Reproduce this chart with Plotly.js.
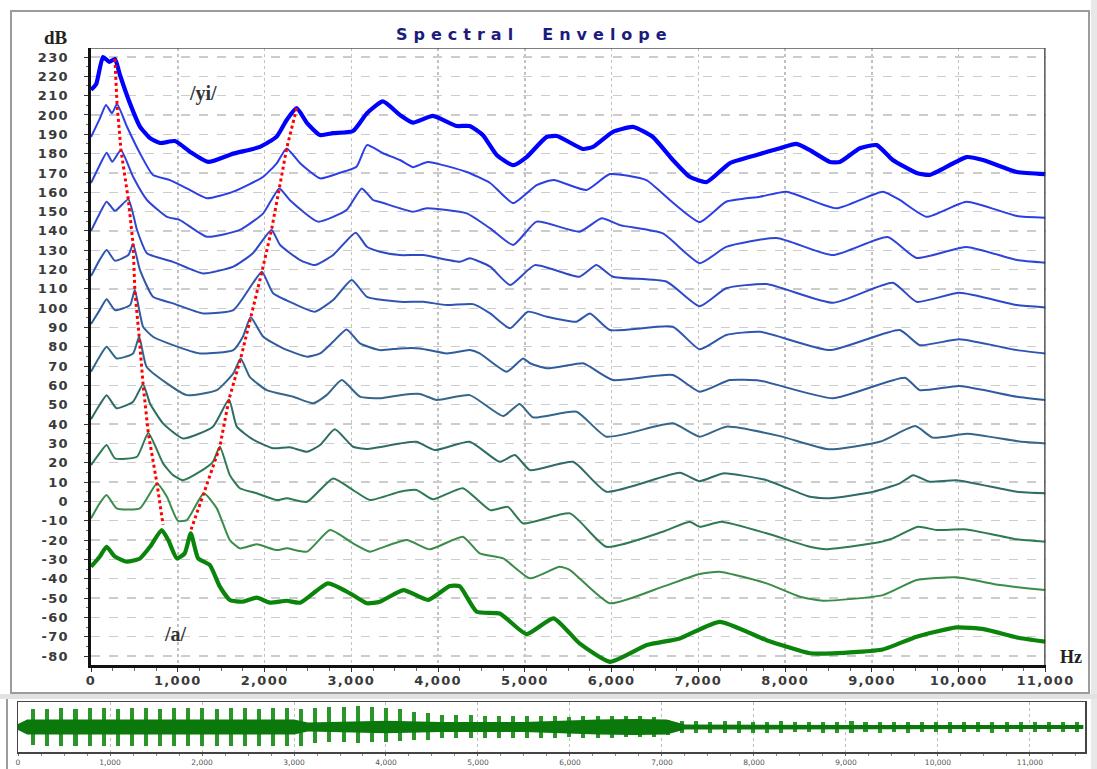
<!DOCTYPE html>
<html>
<head>
<meta charset="utf-8">
<script src="https://cdn.plot.ly/plotly-3.0.1.min.js"></script>
<style>
  html, body { margin: 0; padding: 0; background: #ffffff; }
  #chart { width: 1097px; height: 769px; }
  #chart .xtick text, #chart .ytick text { letter-spacing: 1.3px; }
  #chart .x2tick text { letter-spacing: 0px; }
  #chart g.annotation[data-index="0"] text { letter-spacing: 6px; }
</style>
</head>
<body>
<div id="chart"></div>
<script>
// ---------------- Spectral envelopes (frequency Hz, level dB) ----------------
// curve 0 : /yi/ (top, thick blue)
const c0f = [0,60,138,210,276,334,449,564,680,795,968,1140,1350,1640,1947,2140,2255,2370,2490,2640,2790,3020,3180,3365,3560,3710,3940,4215,4365,4515,4675,4865,5020,5250,5370,5670,5785,6015,6245,6475,6705,6900,7095,7360,7670,7940,8130,8280,8515,8630,8860,9055,9240,9515,9665,10090,10280,10670,11000];
const c0d = [213,216,230,227.5,229,220.7,206,194,188,185.5,186.5,181,175.7,180,183.5,188.8,197.4,203.5,195.8,189.6,190.6,191.7,200.9,207,200,196,199.5,194.3,194.3,189.6,179.3,174,178.2,188.6,189.1,182.4,183.5,191.3,193.8,188.6,176.7,168,165.3,175,179.3,182.8,185,181.9,175.7,175.7,182.8,184.4,176.7,170,169,178.2,176.7,170.5,169.4];
// curve 1
const c1f = [0,100,173,242,300,415,564,715,910,1105,1335,1640,1985,2140,2255,2410,2640,2870,3060,3180,3365,3560,3710,3880,4330,4600,4865,5135,5330,5710,5980,6400,6670,7015,7320,7710,8015,8590,9125,9320,9630,10090,10670,11000];
const c1d = [188.6,198,205.2,200.9,205.7,193.9,180.2,168.9,166.3,162,156.9,160.3,168,175,182.7,175,167.2,170.1,173.2,184.4,180.2,176.7,173,175.7,170.5,164.8,154.4,163.7,166.3,161.2,169.4,166.3,156,144.6,155.1,157.7,160.3,151.7,160.3,156,147.3,155.1,147.7,146.8];
// curve 2
const c2f = [0,100,180,245,345,485,645,875,1025,1335,1716,1985,2170,2290,2615,2945,3120,3250,3330,3560,3710,3870,4330,4600,4865,5135,5630,5885,6095,6590,7015,7320,7900,8550,9180,9515,10090,10670,11000];
const c2d = [164.8,174,180.5,175.8,181.9,168,156,147.3,145.6,137,140.5,149.1,162,156,144.8,150.8,162,156,155,151.7,149.9,151.7,149.1,141.3,132.7,144.8,139.6,146.5,143,138.7,123.3,131.7,136.3,127.5,136.8,126,131.7,124.9,123.5];
// curve 3
const c3f = [0,100,180,276,430,530,645,945,1290,1640,1865,2080,2180,2410,2580,2790,3050,3180,3330,3560,3830,4250,4365,4600,4830,5115,5630,5825,6015,6635,7015,7320,7785,8550,9240,9515,10010,10670,11000];
const c3d = [140,149,155.1,150.4,156.3,140.5,128.4,124,118,121.5,128.4,140.5,132.7,124.9,122.3,127.5,139.1,131.8,129.2,127.5,127.5,124,125.8,121.5,112,122.3,116.3,122.3,116.3,113.7,101,110.3,112.5,102.8,113.2,103.3,108,101.6,100.4];
// curve 4
const c4f = [0,100,180,276,430,485,564,715,945,1290,1640,1865,1970,2100,2330,2580,2790,3005,3180,3560,3830,4100,4405,4600,4830,5035,5250,5595,5750,5980,6705,7015,7320,7710,8515,9320,9550,10010,10670,11000];
const c4d = [116.6,125,130.1,124.6,127.5,133.2,119.8,105.9,102.5,97.3,99,112.9,118.9,107.7,102.5,98.2,104.2,114.6,105.9,103.3,103.3,101.6,102.1,97.3,89.6,98.2,95.6,93,97.3,88.7,90.4,78.7,86.1,87.8,78.3,88.7,80.9,83.9,78.3,76.6];
// curve 5
const c5f = [0,100,180,276,450,505,600,715,945,1255,1640,1750,1840,1985,2215,2490,2640,2790,2945,3100,3330,3560,3790,4100,4365,4480,4790,4980,5060,5250,5670,5750,6015,6705,7015,7360,7710,8550,9380,9550,10010,10670,11000];
const c5d = [91.8,99,104.6,99,101.6,109.4,90.4,85.2,80.9,76.6,78.3,85.2,95.3,85.2,79.2,74.9,76.6,82.6,89,81.8,78.3,79.2,79.2,76.6,78.3,76.6,67.1,74,71.5,68.9,71.5,69.7,62.8,65.4,56.8,62.8,62.5,53.4,64,57.6,59.7,54.2,52.5];
// curve 6
const c6f = [0,100,180,295,485,555,640,875,1105,1450,1640,1725,1830,2025,2330,2560,2715,2890,3100,3330,3560,3790,3985,4365,4750,4940,5095,5595,5940,6705,7015,7320,7940,8500,9100,9500,9700,10100,10700,11000];
const c6d = [67.1,75,80,74,76.6,85.2,69.7,61.1,55,57.6,66.3,74,64.5,57.6,54.2,50.8,55,62.8,54.2,53.4,55,55.6,52.5,55,44.2,50.4,43.5,46.4,33.5,40.4,33.5,38.7,33.8,27,31,39,33,35,31,30];
// curve 7
const c7f = [0,100,180,295,485,600,680,830,1060,1405,1590,1680,1865,2100,2290,2490,2640,2810,3020,3180,3560,3750,3960,4365,4710,4885,5060,5555,5940,6785,7015,7285,7785,8285,8515,9015,9320,9475,9665,9975,10670,11000];
const c7d = [42.5,50,55,48.2,51.6,60.7,50.7,40.4,32.6,38.7,52.8,38.7,32.1,27.5,28,25.7,29.2,37.3,28.3,27.1,30,30.9,26.6,30.9,20.5,24,16.2,20.5,5,14.8,10.5,14.5,11,2.4,1.6,5,9.3,13.6,10.2,11,5,4.2];
// curve 8
const c8f = [0,100,180,276,530,660,830,945,1060,1255,1405,1485,1600,1716,1910,2140,2255,2490,2790,3020,3215,3560,3750,3940,4285,4600,4805,4980,5520,5940,6590,6900,7015,7265,7785,8285,8475,9015,9240,9530,9745,10090,10670,11000];
const c8d = [18.8,25,29.2,22.3,23.1,35.4,19.7,13.6,11,15.4,20.5,28.3,13.6,6.8,4.2,0.7,1.6,-0.2,11.9,5.9,0.7,5,5.9,1.1,6.8,-4.5,-2.8,-11.4,-6.2,-23.5,-15.7,-10.5,-13.1,-10.5,-16.5,-23.5,-24.7,-21.7,-19.1,-13.1,-14.8,-14.5,-19.6,-20.9];
// curve 9
const c9f = [0,100,180,295,564,760,875,1000,1105,1300,1450,1600,1716,1910,2140,2255,2490,2755,3020,3215,3330,3640,3905,4285,4480,4750,5060,5400,5520,5980,6590,7015,7245,7785,8170,8435,9125,9515,9975,10475,11000];
const c9d = [-8.8,-1,3.3,-3.6,-3.6,9.3,2.4,-10,-9.7,4.2,-3.6,-20,-24.3,-22.2,-25.2,-24.3,-26,-14.8,-21.7,-26,-24.3,-20,-24.8,-18.3,-26.9,-29.5,-39.8,-33.8,-35.5,-52.7,-44.1,-37.6,-36.4,-42.4,-49.3,-51.4,-48.5,-40.7,-39.3,-43.3,-45.9];
// curve 10 : /a/ (bottom, thick green)
const c10f = [0,100,180,276,415,564,680,815,890,990,1080,1150,1235,1370,1485,1600,1750,1910,2060,2255,2410,2730,2985,3180,3330,3600,3885,4135,4250,4445,4710,5020,5330,5630,5980,6405,6785,7245,7785,8285,8550,9125,9515,9975,10300,10670,11000];
const c10d = [-33.8,-28.6,-23.5,-28.6,-31.2,-29.5,-23.5,-14.8,-20,-29.5,-26.9,-16.5,-29.5,-33,-44.1,-51,-51.9,-49.8,-52.4,-51.4,-52.4,-42.4,-47.6,-52.7,-51.9,-45.9,-51,-43.8,-44,-57.1,-58,-68.7,-60.5,-73.5,-83,-74.3,-70.9,-62.3,-71.8,-78.6,-78.6,-76.6,-70,-65.2,-66.2,-70.4,-72.6];

// formant tracks (red dotted)
const f1TrackHz = [276,300,345,430,485,505,555,600,660,760,830];
const f1TrackDb = [229,205.7,181.9,156.3,133.2,109.4,85.2,60.7,35.4,9.3,-12];
const f2TrackHz = [2370,2255,2170,2080,1970,1840,1725,1590,1485,1300,1150];
const f2TrackDb = [203.5,182.7,162,140.5,118.9,95.3,74,52.8,28.3,4.2,-15];

// tick labels
const xTickVals = [0,1000,2000,3000,4000,5000,6000,7000,8000,9000,10000,11000];
const xTickText = ["0","1,000","2,000","3,000","4,000","5,000","6,000","7,000","8,000","9,000","10,000","11,000"];
const yTickVals = [-80,-70,-60,-50,-40,-30,-20,-10,0,10,20,30,40,50,60,70,80,90,100,110,120,130,140,150,160,170,180,190,200,210,220,230];
const yTickText = ["-80","-70","-60","-50","-40","-30","-20","-10","0","10","20","30","40","50","60","70","80","90","100","110","120","130","140","150","160","170","180","190","200","210","220","230"];

// waveform strip: pitch pulses and continuous band
const pulseX = [167,320,472,625,778,930,1085,1240,1392,1545,1700,1852,2005,2160,2312,2465,2620,2772,2925,3080,3232,3385,3540,3692,3845,4000,4152,4305,4460,4612,4765,4920,5072,5225,5380,5532,5685,5840,5992,6145,6300,6452,6605,6760,6912,7065,7220,7372,7525,7680,7832,7985,8140,8292,8445,8600,8752,8905,9060,9212,9365,9520,9672,9825,9980,10132,10285,10440,10592,10745,10900,11052,11205,11360,11512];
const pulseTop = [0.72,0.74,0.75,0.74,0.76,0.75,0.74,0.75,0.76,0.74,0.75,0.75,0.76,0.74,0.77,0.75,0.74,0.76,0.75,0.74,0.78,0.8,0.82,0.85,0.8,0.78,0.72,0.62,0.55,0.5,0.48,0.5,0.45,0.45,0.46,0.44,0.45,0.46,0.42,0.45,0.44,0.46,0.45,0.44,0.4,0.3,0.25,0.24,0.22,0.24,0.23,0.22,0.22,0.23,0.22,0.21,0.22,0.22,0.23,0.22,0.22,0.21,0.22,0.22,0.21,0.22,0.22,0.21,0.22,0.22,0.21,0.22,0.21,0.22,0.21];
const pulseBottom = [-0.72,-0.74,-0.74,-0.75,-0.74,-0.75,-0.74,-0.75,-0.74,-0.74,-0.75,-0.75,-0.74,-0.74,-0.75,-0.74,-0.74,-0.75,-0.75,-0.74,-0.62,-0.6,-0.6,-0.62,-0.6,-0.58,-0.55,-0.52,-0.5,-0.45,-0.44,-0.45,-0.42,-0.42,-0.44,-0.42,-0.42,-0.42,-0.4,-0.42,-0.42,-0.42,-0.4,-0.4,-0.38,-0.3,-0.25,-0.24,-0.22,-0.23,-0.22,-0.22,-0.22,-0.22,-0.21,-0.21,-0.22,-0.22,-0.22,-0.21,-0.22,-0.21,-0.22,-0.21,-0.21,-0.22,-0.21,-0.21,-0.22,-0.21,-0.21,-0.21,-0.21,-0.21,-0.21];
const bandX = [0,100,1500,3000,3150,4000,4600,5500,6300,6700,7050,7250,9000,11580];
const bandTop = [0.12,0.3,0.3,0.3,0.18,0.25,0.2,0.2,0.3,0.32,0.3,0.1,0.08,0.08];
const bandBottom = [-0.12,-0.3,-0.3,-0.3,-0.18,-0.25,-0.2,-0.2,-0.3,-0.32,-0.3,-0.1,-0.08,-0.08];

// ---------------- styling ----------------
const curvesF = [c0f,c1f,c2f,c3f,c4f,c5f,c6f,c7f,c8f,c9f,c10f];
const curvesD = [c0d,c1d,c2d,c3d,c4d,c5d,c6d,c7d,c8d,c9d,c10d];
const colors = ['#0000ff','#2c3ee6','#2f44d8','#2e49c6','#2f54b2','#305c9e','#33668a','#2f6c66','#2f7a52','#3a8c48','#0a840a'];
const widths = [4.2,2,2,2,2,2,2,2,2,2,4.2];

const traces = [];
for (let i = 0; i < curvesF.length; i++) {
  traces.push({
    type: 'scatter', mode: 'lines', x: curvesF[i], y: curvesD[i],
    xaxis: 'x', yaxis: 'y',
    line: {color: colors[i], width: widths[i], shape: 'spline', smoothing: 0.5},
    hoverinfo: 'skip'
  });
}
traces.push({type:'scatter', mode:'lines', x:f1TrackHz, y:f1TrackDb, xaxis:'x', yaxis:'y',
  line:{color:'#ff0000', width:3, dash:'dot'}, hoverinfo:'skip'});
traces.push({type:'scatter', mode:'lines', x:f2TrackHz, y:f2TrackDb, xaxis:'x', yaxis:'y',
  line:{color:'#ff0000', width:3, dash:'dot'}, hoverinfo:'skip'});

// waveform band
traces.push({type:'scatter', mode:'lines', xaxis:'x2', yaxis:'y2',
  x: bandX.concat(bandX.slice().reverse()),
  y: bandTop.concat(bandBottom.slice().reverse()),
  fill:'toself', fillcolor:'#0a780a', line:{width:0}, hoverinfo:'skip'});
// waveform pulses
traces.push({type:'bar', xaxis:'x2', yaxis:'y2', x: pulseX,
  base: pulseBottom, y: pulseTop.map((t,i)=> t - pulseBottom[i]),
  width: 44, marker:{color:'#2a962a', line:{width:0}}, hoverinfo:'skip'});

// pixel -> paper helpers (plot area: x 18..1085, y 48..752)
const L = 18, R = 1085, T = 48, B = 752;
const px = v => (v - L) / (R - L);
const py = v => (B - v) / (B - T);

const tickFont = {family:'DejaVu Sans', size:13, color:'#3a3a3a', weight:'bold'};

const layout = {
  width: 1097, height: 769,
  margin: {l: L, r: 1097 - R, t: T, b: 769 - B, pad: 0},
  paper_bgcolor: '#ffffff', plot_bgcolor: '#ffffff',
  showlegend: false, hovermode: false, bargap: 0,
  xaxis: {
    domain: [px(91), px(1045.5)], range: [0, 11000], anchor: 'y',
    tickvals: xTickVals, ticktext: xTickText, tickfont: tickFont,
    showgrid: true, gridcolor: '#c2c2c2', griddash: 'dot', gridwidth: 1.5,
    showline: true, linecolor: '#111111', linewidth: 2.5, mirror: false,
    ticks: 'outside', ticklen: 4, tickcolor: '#333', tickwidth: 1,
    minor: {dtick: 250, tick0: 0, ticks: 'outside', ticklen: 3, tickcolor: '#666', showgrid: false},
    ticklabelstandoff: -2, zeroline: false
  },
  yaxis: {
    domain: [py(665), 1], range: [-84.66, 234.66], anchor: 'x',
    tickvals: yTickVals, ticktext: yTickText, tickfont: tickFont,
    showgrid: true, gridcolor: '#cccccc', griddash: 'dash', gridwidth: 1.3,
    showline: true, linecolor: '#111111', linewidth: 3.5,
    ticks: 'outside', ticklen: 4, tickcolor: '#333',
    minor: {dtick: 5, ticks: 'outside', ticklen: 2, tickcolor: '#666', showgrid: false},
    ticklabelstandoff: 12, zeroline: false
  },
  xaxis2: {
    domain: [0, 1], range: [0, 11598], anchor: 'y2',
    tickvals: xTickVals, ticktext: xTickText,
    tickfont: {family:'DejaVu Sans', size:7.5, color:'#555'},
    showgrid: true, gridcolor: '#bdbdbd', griddash: 'dot', gridwidth: 1,
    showline: true, linecolor: '#444', linewidth: 1.5, mirror: true,
    ticks: 'outside', ticklen: 2, tickcolor: '#666',
    minor: {dtick: 250, ticks: 'outside', ticklen: 2, tickcolor: '#888', showgrid: false},
    ticklabelstandoff: 0, zeroline: false
  },
  yaxis2: {
    domain: [0, py(702)], range: [-1, 1], anchor: 'x2',
    showticklabels: false, showgrid: false, zeroline: false,
    showline: true, linecolor: '#444', linewidth: 1.5, mirror: true, ticks: ''
  },
  shapes: [
    {type:'rect', xref:'paper', yref:'paper', x0:px(11), x1:px(1089), y0:py(693), y1:py(11),
      line:{color:'#9c9c9c', width:2}, fillcolor:'rgba(0,0,0,0)', layer:'below'},
    {type:'rect', xref:'paper', yref:'paper', x0:px(1091), x1:px(1097), y0:py(769), y1:py(0),
      line:{width:0}, fillcolor:'#e8e8e8', layer:'below'},
    {type:'rect', xref:'paper', yref:'paper', x0:px(0), x1:px(1097), y0:py(699), y1:py(694),
      line:{width:0}, fillcolor:'#e2e2e2', layer:'below'},
    {type:'line', xref:'paper', yref:'paper', x0:px(7), x1:px(7), y0:py(769), y1:py(699),
      line:{color:'#9c9c9c', width:2}},
    {type:'line', xref:'x', yref:'y', x0:11000, x1:11000, y0:-84.66, y1:234.66,
      line:{color:'#333333', width:2.5}},
    {type:'line', xref:'x', yref:'y', x0:0, x1:11000, y0:234.66, y1:234.66,
      line:{color:'#555555', width:1.5}}
  ],
  annotations: [
    {text:'Spectral  Envelope', xref:'paper', yref:'paper', x:px(534), y:py(34),
      showarrow:false, xanchor:'center', yanchor:'middle',
      font:{family:'DejaVu Sans', size:16, color:'#1c1c7e', weight:'bold'}},
    {text:'dB', xref:'paper', yref:'paper', x:px(56), y:py(37),
      showarrow:false, xanchor:'center', yanchor:'middle',
      font:{family:'Liberation Serif', size:19, color:'#222', weight:'bold'}},
    {text:'Hz', xref:'paper', yref:'paper', x:px(1071), y:py(657),
      showarrow:false, xanchor:'center', yanchor:'middle',
      font:{family:'Liberation Serif', size:18, color:'#222', weight:'bold'}},
    {text:'/yi/', xref:'paper', yref:'paper', x:px(203), y:py(93),
      showarrow:false, xanchor:'center', yanchor:'middle',
      font:{family:'Liberation Serif', size:20, color:'#333', weight:'bold'}},
    {text:'/a/', xref:'paper', yref:'paper', x:px(175), y:py(634),
      showarrow:false, xanchor:'center', yanchor:'middle',
      font:{family:'Liberation Serif', size:20, color:'#333', weight:'bold'}}
  ]
};

Plotly.newPlot('chart', traces, layout, {staticPlot: true, displayModeBar: false});
</script>
</body>
</html>
